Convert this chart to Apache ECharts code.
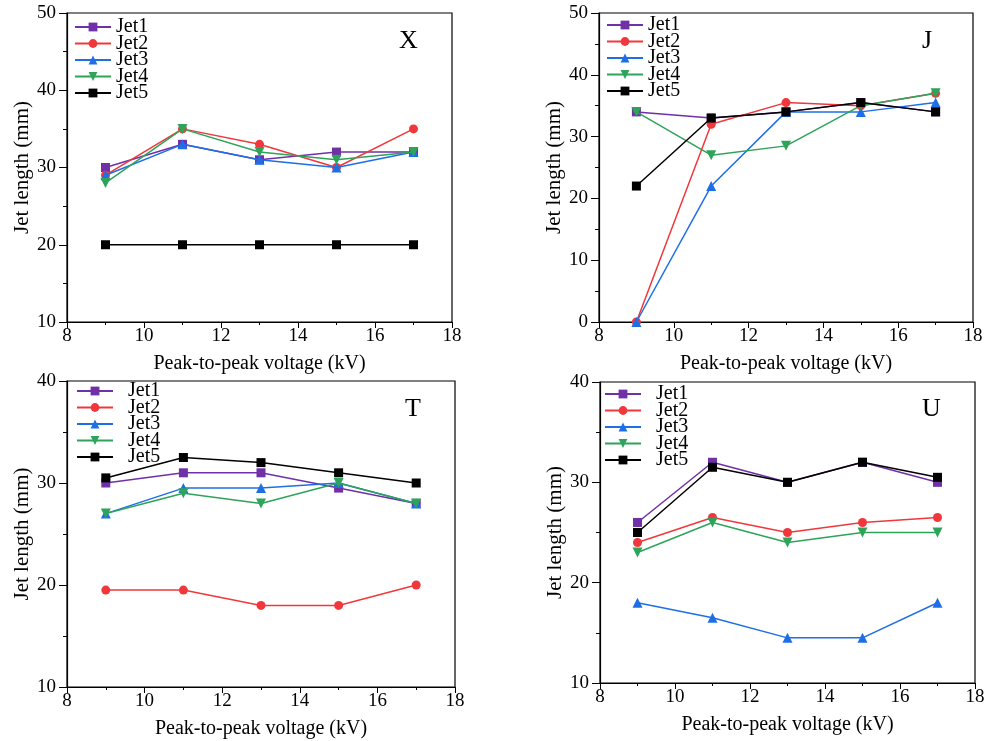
<!DOCTYPE html>
<html><head><meta charset="utf-8">
<script src="https://cdn.jsdelivr.net/npm/echarts@6/dist/echarts.min.js"></script>
<style>html,body{margin:0;padding:0;background:#fff}#c{width:994px;height:741px}</style>
</head><body><div id="c"></div>
<script>
const voltages = [9, 11, 13, 15, 17];
const jetNames = ['Jet1', 'Jet2', 'Jet3', 'Jet4', 'Jet5'];
const panelLabels = ['X', 'J', 'T', 'U'];
// Panel X
const X_jet1 = [30, 33, 31, 32, 32];
const X_jet2 = [29, 35, 33, 30, 35];
const X_jet3 = [29, 33, 31, 30, 32];
const X_jet4 = [28, 35, 32, 31, 32];
const X_jet5 = [20, 20, 20, 20, 20];
// Panel J
const J_jet1 = [34, 33, 34, 35.5, 34];
const J_jet2 = [0, 32, 35.5, 35, 37];
const J_jet3 = [0, 22, 34, 34, 35.5];
const J_jet4 = [34, 27, 28.5, 35, 37];
const J_jet5 = [22, 33, 34, 35.5, 34];
// Panel T
const T_jet1 = [30, 31, 31, 29.5, 28];
const T_jet2 = [19.5, 19.5, 18, 18, 20];
const T_jet3 = [27, 29.5, 29.5, 30, 28];
const T_jet4 = [27, 29, 28, 30, 28];
const T_jet5 = [30.5, 32.5, 32, 31, 30];
// Panel U
const U_jet1 = [26, 32, 30, 32, 30];
const U_jet2 = [24, 26.5, 25, 26, 26.5];
const U_jet3 = [18, 16.5, 14.5, 14.5, 18];
const U_jet4 = [23, 26, 24, 25, 25];
const U_jet5 = [25, 31.5, 30, 32, 30.5];
// Axis ranges
const yMin = [10, 0, 10, 10];
const yMax = [50, 50, 40, 40];
const xMin = 8, xMax = 18, xStep = 2, yStep = 10;
const xTitle = 'Peak-to-peak voltage (kV)';
const yTitle = 'Jet length (mm)';

const panels = [
  [X_jet1, X_jet2, X_jet3, X_jet4, X_jet5],
  [J_jet1, J_jet2, J_jet3, J_jet4, J_jet5],
  [T_jet1, T_jet2, T_jet3, T_jet4, T_jet5],
  [U_jet1, U_jet2, U_jet3, U_jet4, U_jet5]
];

const colors = ['#7030a8', '#f0383c', '#1e6fe6', '#2ea35a', '#000000'];
const symbols = ['rect', 'circle', 'triangle', 'path://M0,0 L10,0 L5,9 Z', 'rect'];
const symSizes = [9, 9, 10, 10, 9];
const FONT = '"Liberation Serif", "Times New Roman", serif';

const grids = [
  {left: 67, top: 13, width: 385, height: 309},
  {left: 599, top: 13, width: 374, height: 309},
  {left: 67, top: 381, width: 388, height: 306},
  {left: 600, top: 382, width: 375, height: 301}
];
const legendPos = [
  {left: 74, top: 17, gap: 0},
  {left: 606, top: 15, gap: 0},
  {left: 76, top: 381, gap: 10},
  {left: 604, top: 384, gap: 10}
];
const letterPos = [[409, 42], [932, 42], [415, 410], [932, 410]];

const option = {
  animation: false,
  backgroundColor: '#fff',
  grid: grids.map(g => Object.assign({show: true, borderColor: '#000', borderWidth: 1.2, backgroundColor: 'transparent'}, g)),
  xAxis: grids.map((g, i) => ({
    type: 'value', gridIndex: i, min: xMin, max: xMax, interval: xStep,
    name: xTitle, nameLocation: 'middle', nameGap: 32,
    nameTextStyle: {fontFamily: FONT, fontSize: 20, color: '#000'},
    axisLine: {show: true, lineStyle: {color: '#000', width: 1.2}},
    axisTick: {show: true, length: 6, lineStyle: {color: '#000'}},
    minorTick: {show: true, splitNumber: 2, length: 3, lineStyle: {color: '#000'}},
    axisLabel: {fontFamily: FONT, fontSize: 19, color: '#000', margin: 5},
    splitLine: {show: false}
  })),
  yAxis: grids.map((g, i) => ({
    type: 'value', gridIndex: i, min: yMin[i], max: yMax[i], interval: yStep,
    name: yTitle, nameLocation: 'middle', nameGap: 34,
    nameTextStyle: {fontFamily: FONT, fontSize: 21, color: '#000'},
    axisLine: {show: true, lineStyle: {color: '#000', width: 1.2}},
    axisTick: {show: true, length: 8, lineStyle: {color: '#000'}},
    minorTick: {show: true, splitNumber: 2, length: 4, lineStyle: {color: '#000'}},
    axisLabel: {fontFamily: FONT, fontSize: 19, color: '#000', margin: 11},
    splitLine: {show: false}
  })),
  legend: legendPos.map((p, i) => ({
    orient: 'vertical', left: p.left, top: p.top, itemWidth: 36, itemHeight: 11, itemGap: -3.5,
    padding: 0,
    data: jetNames.map((n, k) => ({name: n})),
    textStyle: {fontFamily: FONT, fontSize: 20, color: '#000', lineHeight: 16, padding: [0, 0, 0, p.gap]},
    selectedMode: false
  })),
  title: panelLabels.map((t, i) => ({
    text: t, left: letterPos[i][0] - 10, top: letterPos[i][1] - 14,
    textStyle: {fontFamily: FONT, fontSize: 26, fontWeight: 'normal', color: '#000'}, padding: 0
  })),
  series: []
};

panels.forEach((jets, p) => {
  jets.forEach((vals, k) => {
    option.series.push({
      type: 'line', name: jetNames[k], xAxisIndex: p, yAxisIndex: p,
      data: voltages.map((v, j) => [v, vals[j]]),
      color: colors[k],
      symbol: symbols[k], symbolSize: symSizes[k],
      lineStyle: {width: 1.5, color: colors[k]},
      itemStyle: {color: colors[k]},
      z: 2 + k
    });
  });
});

const chart = echarts.init(document.getElementById('c'), null, {renderer: 'canvas'});
chart.setOption(option);
</script></body></html>
